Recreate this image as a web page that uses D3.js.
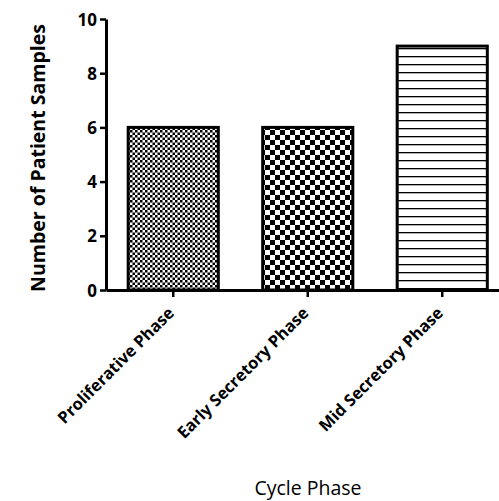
<!DOCTYPE html>
<html>
  <head>
    <meta charset="utf-8">
    <title>Cycle Phase</title>
    <style>
      body { margin: 0; background: #fff; }
      text { font-family: "Open Sans", sans-serif; }
    </style>
  </head>
  <body>
    <script src="https://cdn.jsdelivr.net/npm/d3@7"></script>
    <script type="text/javascript">
      var phases = ["Proliferative Phase", "Early Secretory Phase", "Mid Secretory Phase"];
      var samples = [6, 6, 9];
      var patternIds = ["fineCheck", "coarseCheck", "hLines"];
      var yTicks = [0, 2, 4, 6, 8, 10];

      var width = 499, height = 501;
      var plotLeft = 106, plotTop = 19, plotBottom = 290;

      var svg = d3.select("body").append("svg")
                  .attr("width", width)
                  .attr("height", height);

      var defs = svg.append("defs");

      // fine checkerboard
      var p1 = defs.append("pattern").attr("id", "fineCheck")
                   .attr("patternUnits", "userSpaceOnUse")
                   .attr("width", 5).attr("height", 5);
      p1.append("rect").attr("width", 5).attr("height", 5).attr("fill", "#fff");
      p1.append("rect").attr("width", 2.5).attr("height", 2.5).attr("fill", "#000");
      p1.append("rect").attr("x", 2.5).attr("y", 2.5).attr("width", 2.5).attr("height", 2.5).attr("fill", "#000");

      // coarse checkerboard
      var p2 = defs.append("pattern").attr("id", "coarseCheck")
                   .attr("patternUnits", "userSpaceOnUse")
                   .attr("width", 10).attr("height", 10);
      p2.append("rect").attr("width", 10).attr("height", 10).attr("fill", "#fff");
      p2.append("rect").attr("width", 5).attr("height", 5).attr("fill", "#000");
      p2.append("rect").attr("x", 5).attr("y", 5).attr("width", 5).attr("height", 5).attr("fill", "#000");

      // horizontal lines
      var p3 = defs.append("pattern").attr("id", "hLines")
                   .attr("patternUnits", "userSpaceOnUse")
                   .attr("width", 8).attr("height", 8);
      p3.append("rect").attr("width", 8).attr("height", 8).attr("fill", "#fff");
      p3.append("rect").attr("y", 0).attr("width", 8).attr("height", 1.3).attr("fill", "#000");

      var x = d3.scaleBand().domain(phases)
                .range([plotLeft, plotLeft + 403.5])
                .paddingInner(0.33).paddingOuter(0.165);
      var y = d3.scaleLinear().domain([0, 10]).range([plotBottom, plotTop]);

      svg.selectAll("rect.bar")
         .data(samples)
         .enter()
         .append("rect")
         .attr("class", "bar")
         .attr("x", function(d, i) { return x(phases[i]); })
         .attr("width", x.bandwidth())
         .attr("y", function(d) { return y(d); })
         .attr("height", function(d) { return y(0) - y(d); })
         .attr("fill", function(d, i) { return "url(#" + patternIds[i] + ")"; })
         .attr("stroke", "#000")
         .attr("stroke-width", 3);

      var yAxis = svg.append("g")
                     .attr("transform", "translate(" + plotLeft + ",0)")
                     .call(d3.axisLeft(y).tickValues(yTicks).tickSize(6).tickPadding(3).tickSizeOuter(0));

      var xAxis = svg.append("g")
                     .attr("transform", "translate(0," + plotBottom + ")")
                     .call(d3.axisBottom(x).tickSize(7).tickSizeOuter(0));

      [yAxis, xAxis].forEach(function(g) {
        g.select(".domain").attr("stroke", "#000").attr("stroke-width", 3);
        g.selectAll(".tick line").attr("stroke", "#000").attr("stroke-width", 2.5);
        g.selectAll("text").attr("fill", "#000")
         .style("font-family", "'Open Sans', sans-serif")
         .style("font-weight", "bold").style("font-size", "16.5px");
      });

      yAxis.selectAll("text").attr("dy", "0.36em").style("font-size", "17px");

      xAxis.selectAll("text")
           .attr("text-anchor", "end")
           .attr("dy", null)
           .attr("y", 0)
           .attr("transform", "translate(2,24) rotate(-45)");

      svg.append("text")
         .attr("transform", "translate(45,158) rotate(-90)")
         .attr("text-anchor", "middle")
         .style("font-weight", "bold")
         .style("font-size", "19.5px")
         .text("Number of Patient Samples");

      svg.append("text")
         .attr("x", 308)
         .attr("y", 495)
         .attr("text-anchor", "middle")
         .style("font-size", "19.5px")
         .text("Cycle Phase");
    </script>
  </body>
</html>
